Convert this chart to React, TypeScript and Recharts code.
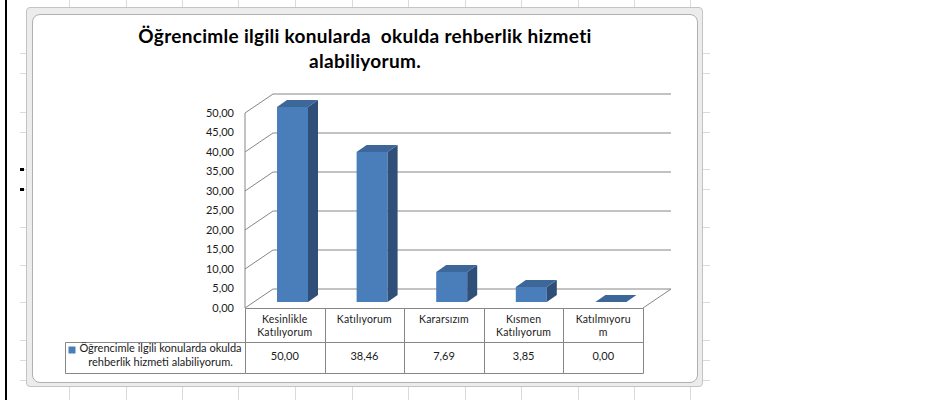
import React from 'react';
import { BarChart, Bar, XAxis, YAxis, CartesianGrid } from 'recharts';

// chart data
const categories = ['Kesinlikle Katılıyorum', 'Katılıyorum', 'Kararsızım', 'Kısmen Katılıyorum', 'Katılmıyorum'];
const headerLines = [['Kesinlikle', 'Katılıyorum'], ['Katılıyorum'], ['Kararsızım'], ['Kısmen', 'Katılıyorum'], ['Katılmıyoru', 'm']];
const values = [50.0, 38.46, 7.69, 3.85, 0.0];
const yTicks = [0, 5, 10, 15, 20, 25, 30, 35, 40, 45, 50];
const seriesName = 'Öğrencimle ilgili konularda okulda rehberlik hizmeti alabiliyorum.';
const legendLines = ['Öğrencimle ilgili konularda okulda', 'rehberlik hizmeti alabiliyorum.'];
const titleLines = ['Öğrencimle ilgili konularda  okulda rehberlik hizmeti', 'alabiliyorum.'];

const data = categories.map((name, i) => ({ name, value: values[i] }));

// layout
const FONT = 'Lato, "Open Sans", sans-serif';
const PLOT_LEFT = 245;
const PLOT_RIGHT = 643;
const PLOT_BOTTOM = 308;
const BAND = (PLOT_RIGHT - PLOT_LEFT) / categories.length;
const LEGEND_LEFT = 65;
const DX = 28; // depth of floor / walls
const DY = 19;
const BAR_SHIFT_X = 8; // bars sit a bit behind the front edge
const BAR_SHIFT_Y = 6;
const BAR_DX = 10; // depth of each bar
const BAR_DY = 7;
const LINE = '#868686';
const TEXT = '#1a1a1a';
const FRONT = '#4a7ebb';
const TOP = '#3d6699';
const SIDE = '#2f4e78';

const sheetCols = [69, 126, 182, 238, 295, 352, 408, 465, 521, 578, 634, 690];
const sheetRows = [53, 73, 112, 132, 169, 189, 227, 265, 302, 340, 360, 380];

const fmt = (v: number) => v.toFixed(2).replace('.', ',');

// walls: side wall diagonal + back wall line for each gridline
const wallLine = (p: any) => {
    const { x1, x2, y1, index } = p;
    const by = y1 - DY;
    let d = `M${x1},${y1}L${x1 + DX},${by}L${x2 + DX},${by}`;
    if (Math.abs(y1 - PLOT_BOTTOM) < 1) {
        // floor right edge
        d += `M${x2},${y1}L${x2 + DX},${by}`;
    }
    return <path key={`wall-${index}`} d={d} stroke={LINE} strokeWidth={1} fill="none" />;
};

const Bar3D = (props: any) => {
    const { x, y, width, height } = props;
    const fx = x + BAR_SHIFT_X;
    const top = y - BAR_SHIFT_Y;
    const h = Math.max(0, height);
    const bottom = top + h;
    const topFace = `${fx},${top} ${fx + width},${top} ${fx + width + BAR_DX},${top - BAR_DY} ${fx + BAR_DX},${top - BAR_DY}`;
    if (h < 0.5) {
        return <polygon points={topFace} fill={TOP} />;
    }
    const side = `${fx + width},${top} ${fx + width + BAR_DX},${top - BAR_DY} ${fx + width + BAR_DX},${bottom - BAR_DY} ${fx + width},${bottom}`;
    return (
        <g>
            <rect x={fx} y={top} width={width} height={h} fill={FRONT} />
            <polygon points={side} fill={SIDE} />
            <polygon points={topFace} fill={TOP} />
        </g>
    );
};

// data table under the plot, one column per category (+ the legend key cell)
const TableTick = (props: any) => {
    const { x, y, payload } = props;
    const i = categories.indexOf(payload.value);
    const left = Math.round(x - BAND / 2) + 0.5;
    const right = Math.round(x + BAND / 2) + 0.5;
    const top = Math.round(y) + 0.5;
    const lines = headerLines[i] || [payload.value];
    const lx = LEGEND_LEFT + 0.5;
    const midLegend = (lx + 10 + left) / 2;
    return (
        <g>
            <path
                d={`M${left},${top}L${right},${top}M${left},${top}L${left},${top + 65}M${right},${top}L${right},${top + 65}M${left},${top + 34}L${right},${top + 34}M${left},${top + 65}L${right},${top + 65}`}
                stroke={LINE}
                fill="none"
            />
            {lines.map((t, k) => (
                <text key={k} x={x} y={top + 12 + k * 13} textAnchor="middle" dominantBaseline="middle" fontSize={10.5} letterSpacing={0.2} fontFamily={FONT} fill={TEXT}>
                    {t}
                </text>
            ))}
            <text x={x} y={top + 49} textAnchor="middle" dominantBaseline="middle" fontSize={11} fontFamily={FONT} fill={TEXT}>
                {fmt(values[i])}
            </text>
            {i === 0 && (
                <g>
                    <path d={`M${lx},${top + 34}L${left},${top + 34}M${lx},${top + 34}L${lx},${top + 65}M${lx},${top + 65}L${left},${top + 65}`} stroke={LINE} fill="none" />
                    <rect x={lx + 3} y={top + 38} width={7} height={7} fill={FRONT}>
                        <title>{seriesName}</title>
                    </rect>
                    {legendLines.map((t, k) => (
                        <text key={k} x={midLegend} y={top + 41 + k * 14} textAnchor="middle" dominantBaseline="middle" fontSize={11} fontFamily={FONT} fill={TEXT}>
                            {t}
                        </text>
                    ))}
                </g>
            )}
        </g>
    );
};

export default function App() {
    return (
        <div style={{ position: 'absolute', left: 0, top: 0, width: 937, height: 400, background: '#fff', overflow: 'hidden' }}>
            {/* spreadsheet behind the chart */}
            {sheetCols.map((c) => (
                <div key={`c${c}`} style={{ position: 'absolute', left: c, top: 0, width: 1, height: 400, background: '#dadada' }} />
            ))}
            {sheetRows.map((r) => (
                <div key={`r${r}`} style={{ position: 'absolute', left: 20, top: r, width: 690, height: 1, background: '#dadada' }} />
            ))}
            <div style={{ position: 'absolute', left: 5, top: 0, width: 2, height: 400, background: '#000' }} />
            <div style={{ position: 'absolute', left: 20, top: 168, width: 4, height: 3, background: '#000' }} />
            <div style={{ position: 'absolute', left: 20, top: 188, width: 4, height: 3, background: '#000' }} />

            {/* chart frame */}
            <div style={{ position: 'absolute', left: 26, top: 7, width: 677, height: 380, boxSizing: 'border-box', border: '1px solid #c4c4c4', borderRadius: 4, background: '#ececec' }} />
            <div style={{ position: 'absolute', left: 32, top: 14, width: 666, height: 369, boxSizing: 'border-box', border: '1px solid #b0b0b0', borderRadius: 8, background: '#fff' }} />

            <div style={{ position: 'absolute', left: 0, top: 0 }}>
                <BarChart width={937} height={400} data={data} margin={{ top: 113, right: 937 - PLOT_RIGHT, bottom: 12, left: 0 }}>
                    <CartesianGrid vertical={false} horizontal={wallLine} />
                    <XAxis dataKey="name" height={80} axisLine={false} tickLine={false} tickSize={0} tickMargin={0} interval={0} tick={<TableTick />} />
                    <YAxis
                        width={PLOT_LEFT}
                        domain={[0, 50]}
                        ticks={yTicks}
                        tickFormatter={fmt}
                        axisLine={{ stroke: LINE }}
                        tickLine={false}
                        tickSize={0}
                        tickMargin={11}
                        tick={{ fontSize: 11, fontFamily: FONT, fill: TEXT }}
                    />
                    <Bar dataKey="value" name={seriesName} fill={FRONT} barSize={31} shape={<Bar3D />} isAnimationActive={false} />
                </BarChart>
            </div>

            <div style={{ position: 'absolute', left: 65, top: 23, width: 600, textAlign: 'center', fontFamily: FONT, fontWeight: 700, fontSize: 19, letterSpacing: 0.3, lineHeight: '25px', color: '#000', whiteSpace: 'pre' }}>
                {titleLines.map((t, k) => (
                    <div key={k}>{t}</div>
                ))}
            </div>
        </div>
    );
}
